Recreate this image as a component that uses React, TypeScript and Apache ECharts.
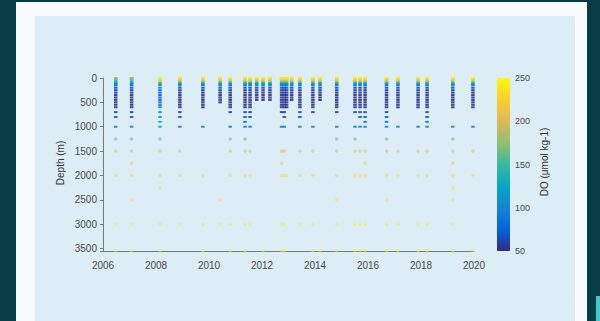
import React, { useEffect, useRef } from 'react';
import * as echarts from 'echarts';

// Cruise dates (decimal years)
const cruiseYears = [2006.48, 2007.08, 2008.15, 2008.9, 2009.77, 2010.42, 2010.8, 2011.36, 2011.55, 2011.8, 2012.04, 2012.3, 2012.74, 2012.84, 2012.93, 2013.12, 2013.43, 2013.92, 2014.19, 2014.82, 2015.51, 2015.7, 2015.89, 2016.7, 2017.13, 2017.89, 2018.23, 2019.2, 2019.96];
// deepest level of the densely sampled upper profile (m)
const cruiseDenseMax = [800, 800, 1000, 800, 600, 500, 700, 900, 800, 450, 450, 450, 700, 800, 600, 450, 800, 700, 450, 700, 700, 800, 900, 1000, 600, 600, 900, 600, 600];
// whether the 1000 m level was sampled
const cruiseHas1000 = [1, 1, 1, 1, 1, 0, 1, 1, 1, 0, 0, 0, 1, 1, 0, 0, 1, 1, 0, 1, 1, 1, 1, 1, 1, 1, 1, 1, 1];
// which upper profile shape: t = typical, w = lower surface DO, r = richer mid-depth DO
const cruiseProfile = ['w', 'w', 'r', 't', 't', 't', 't', 't', 't', 't', 't', 't', 't', 't', 't', 't', 't', 't', 't', 't', 't', 't', 't', 't', 't', 't', 't', 't', 't'];
// deep bottle levels per cruise
const cruiseDeep = [
  [1250, 1500, 2000, 3000, 3540],
  [1250, 1500, 1750, 2000, 2500, 3000, 3540],
  [1250, 1500, 2000, 2250, 3000, 3540],
  [1500, 2000, 3000],
  [2000, 3000, 3540],
  [2500, 3000],
  [1250, 1500, 2000, 3000, 3540],
  [1250, 1500, 2000, 3000, 3540],
  [1500, 2000, 3000],
  [],
  [3540],
  [],
  [1500, 1750, 2000, 3000, 3540],
  [1500, 2000, 3000, 3540],
  [2000],
  [],
  [1500, 2000, 3000],
  [1500, 2000, 3000, 3540],
  [3540],
  [1250, 1500, 2000, 2500, 3000, 3540],
  [1250, 1500, 2000, 3000, 3540],
  [1500, 2000, 3000, 3540],
  [1500, 1750, 2000, 3000, 3540],
  [1250, 1500, 2000, 2500, 3000, 3540],
  [1500, 2000, 3000, 3540],
  [1500, 2000, 3000, 3540],
  [1500, 2000, 3000, 3540],
  [1250, 1500, 1750, 2000, 2250, 2500, 3000, 3540],
  [1500, 2000, 3540],
];

const profileDepths = [0, 10, 20, 30, 50, 75, 100, 125, 150, 200, 250, 300, 350, 400, 450, 500, 550, 600, 700, 800, 900, 1000];
const doTypical = [240, 240, 238, 232, 215, 180, 140, 110, 88, 68, 58, 54, 52, 51, 51, 52, 53, 55, 60, 70, 85, 100];
const doLowSurface = [175, 175, 172, 168, 160, 140, 120, 100, 82, 66, 58, 54, 52, 51, 51, 52, 53, 55, 60, 70, 85, 100];
const doRich = [248, 248, 246, 240, 228, 200, 160, 130, 110, 95, 85, 80, 78, 78, 80, 82, 86, 92, 105, 115, 125, 130];

const deepDepths = [1250, 1500, 1750, 2000, 2250, 2500, 3000, 3540];
const deepDO = [145, 195, 215, 228, 234, 238, 242, 246];

const yTicks = [0, 500, 1000, 1500, 2000, 2500, 3000, 3500];
const colorbarTicks = [50, 100, 150, 200, 250];

const parula = ['#352a87', '#0363e1', '#1485d4', '#06a7c6', '#38b99e', '#92bf73', '#d9ba56', '#fcce2e', '#f9fb0e'];

function buildUpper() {
  const pts: number[][] = [];
  cruiseYears.forEach((yr, i) => {
    const prof = cruiseProfile[i] === 'w' ? doLowSurface : cruiseProfile[i] === 'r' ? doRich : doTypical;
    profileDepths.forEach((d, k) => {
      if (d === 1000) {
        if (cruiseHas1000[i]) pts.push([yr, d, prof[k]]);
      } else if (d <= cruiseDenseMax[i]) {
        pts.push([yr, d, prof[k]]);
      }
    });
  });
  return pts;
}

function buildDeep() {
  const pts: number[][] = [];
  cruiseYears.forEach((yr, i) => {
    cruiseDeep[i].forEach((d) => {
      const k = deepDepths.indexOf(d);
      pts.push([yr, d, deepDO[k]]);
    });
  });
  return pts;
}

const FONT = 'Liberation Sans, Arial, sans-serif';
const LABEL = '#4a4a4a';

export default function App() {
  const ref = useRef<HTMLDivElement>(null);
  useEffect(() => {
    const chart = echarts.init(ref.current!, null, { renderer: 'svg' });
    const stops = parula.map((c, i) => ({ offset: i / (parula.length - 1), color: c }));
    chart.setOption({
      animation: false,
      backgroundColor: '#073c46',
      textStyle: { fontFamily: FONT },
      graphic: [
        { type: 'rect', z: -10, shape: { x: 16, y: 2, width: 571, height: 319 }, style: { fill: '#f8fbfd' } },
        { type: 'rect', z: -9, shape: { x: 35, y: 16, width: 540, height: 305 }, style: { fill: '#dcedf6' } },
        { type: 'rect', z: -9, shape: { x: 596, y: 296, width: 4, height: 25 }, style: { fill: '#3fc8d0' } },
        {
          type: 'text', x: 60, y: 163, rotation: Math.PI / 2,
          style: { text: 'Depth (m)', fill: '#333', font: '10px ' + FONT, align: 'center', verticalAlign: 'middle' },
        },
        {
          type: 'text', x: 544, y: 162, rotation: Math.PI / 2,
          style: { text: 'DO (μmol kg-1)', fill: '#333', font: '10px ' + FONT, align: 'center', verticalAlign: 'middle' },
        },
      ],
      grid: [
        { left: 103, top: 78, width: 371, height: 173 },
        { left: 497, top: 78, width: 13, height: 173 },
      ],
      xAxis: [
        {
          gridIndex: 0, type: 'value', min: 2006, max: 2020, interval: 2, position: 'bottom',
          axisLine: { onZero: false, lineStyle: { color: '#7a7a7a', width: 1 } },
          axisTick: { show: false },
          splitLine: { show: false },
          axisLabel: { color: LABEL, fontSize: 10, margin: 9, fontFamily: FONT, formatter: (v: number) => String(v) },
        },
        { gridIndex: 1, type: 'category', data: ['c'], show: false },
      ],
      yAxis: [
        {
          gridIndex: 0, type: 'value', inverse: true, min: 0, max: 3550, interval: 500,
          axisLine: { show: true, onZero: false, lineStyle: { color: '#7a7a7a', width: 1 } },
          axisTick: { show: true, length: 3, lineStyle: { color: '#7a7a7a' } },
          splitLine: { show: false },
          axisLabel: {
            color: LABEL, fontSize: 10, margin: 6, fontFamily: FONT,
            formatter: (v: number) => (yTicks.indexOf(v) >= 0 ? String(v) : ''),
          },
        },
        {
          gridIndex: 1, type: 'value', position: 'right', min: colorbarTicks[0], max: colorbarTicks[colorbarTicks.length - 1], interval: 50,
          axisLine: { show: false },
          axisTick: { show: false },
          splitLine: { show: false },
          axisLabel: { color: LABEL, fontSize: 9, margin: 5, fontFamily: FONT },
        },
      ],
      visualMap: {
        type: 'continuous', min: 50, max: 250, dimension: 2, show: false, seriesIndex: [0, 1],
        inRange: { color: parula },
      },
      series: [
        {
          type: 'scatter', xAxisIndex: 0, yAxisIndex: 0, data: buildDeep(),
          symbol: 'circle', symbolSize: 3.5, itemStyle: { opacity: 0.45 }, z: 2,
        },
        {
          type: 'scatter', xAxisIndex: 0, yAxisIndex: 0, data: buildUpper(),
          symbol: 'rect', symbolSize: [3.5, 2], itemStyle: { opacity: 0.9 }, z: 3,
        },
        {
          type: 'bar', xAxisIndex: 1, yAxisIndex: 1, data: [250], barWidth: '100%',
          itemStyle: { color: new echarts.graphic.LinearGradient(0, 1, 0, 0, stops) },
        },
      ],
    });
    return () => chart.dispose();
  }, []);
  return <div ref={ref} style={{ position: 'absolute', left: 0, top: 0, width: 600, height: 321 }} />;
}
